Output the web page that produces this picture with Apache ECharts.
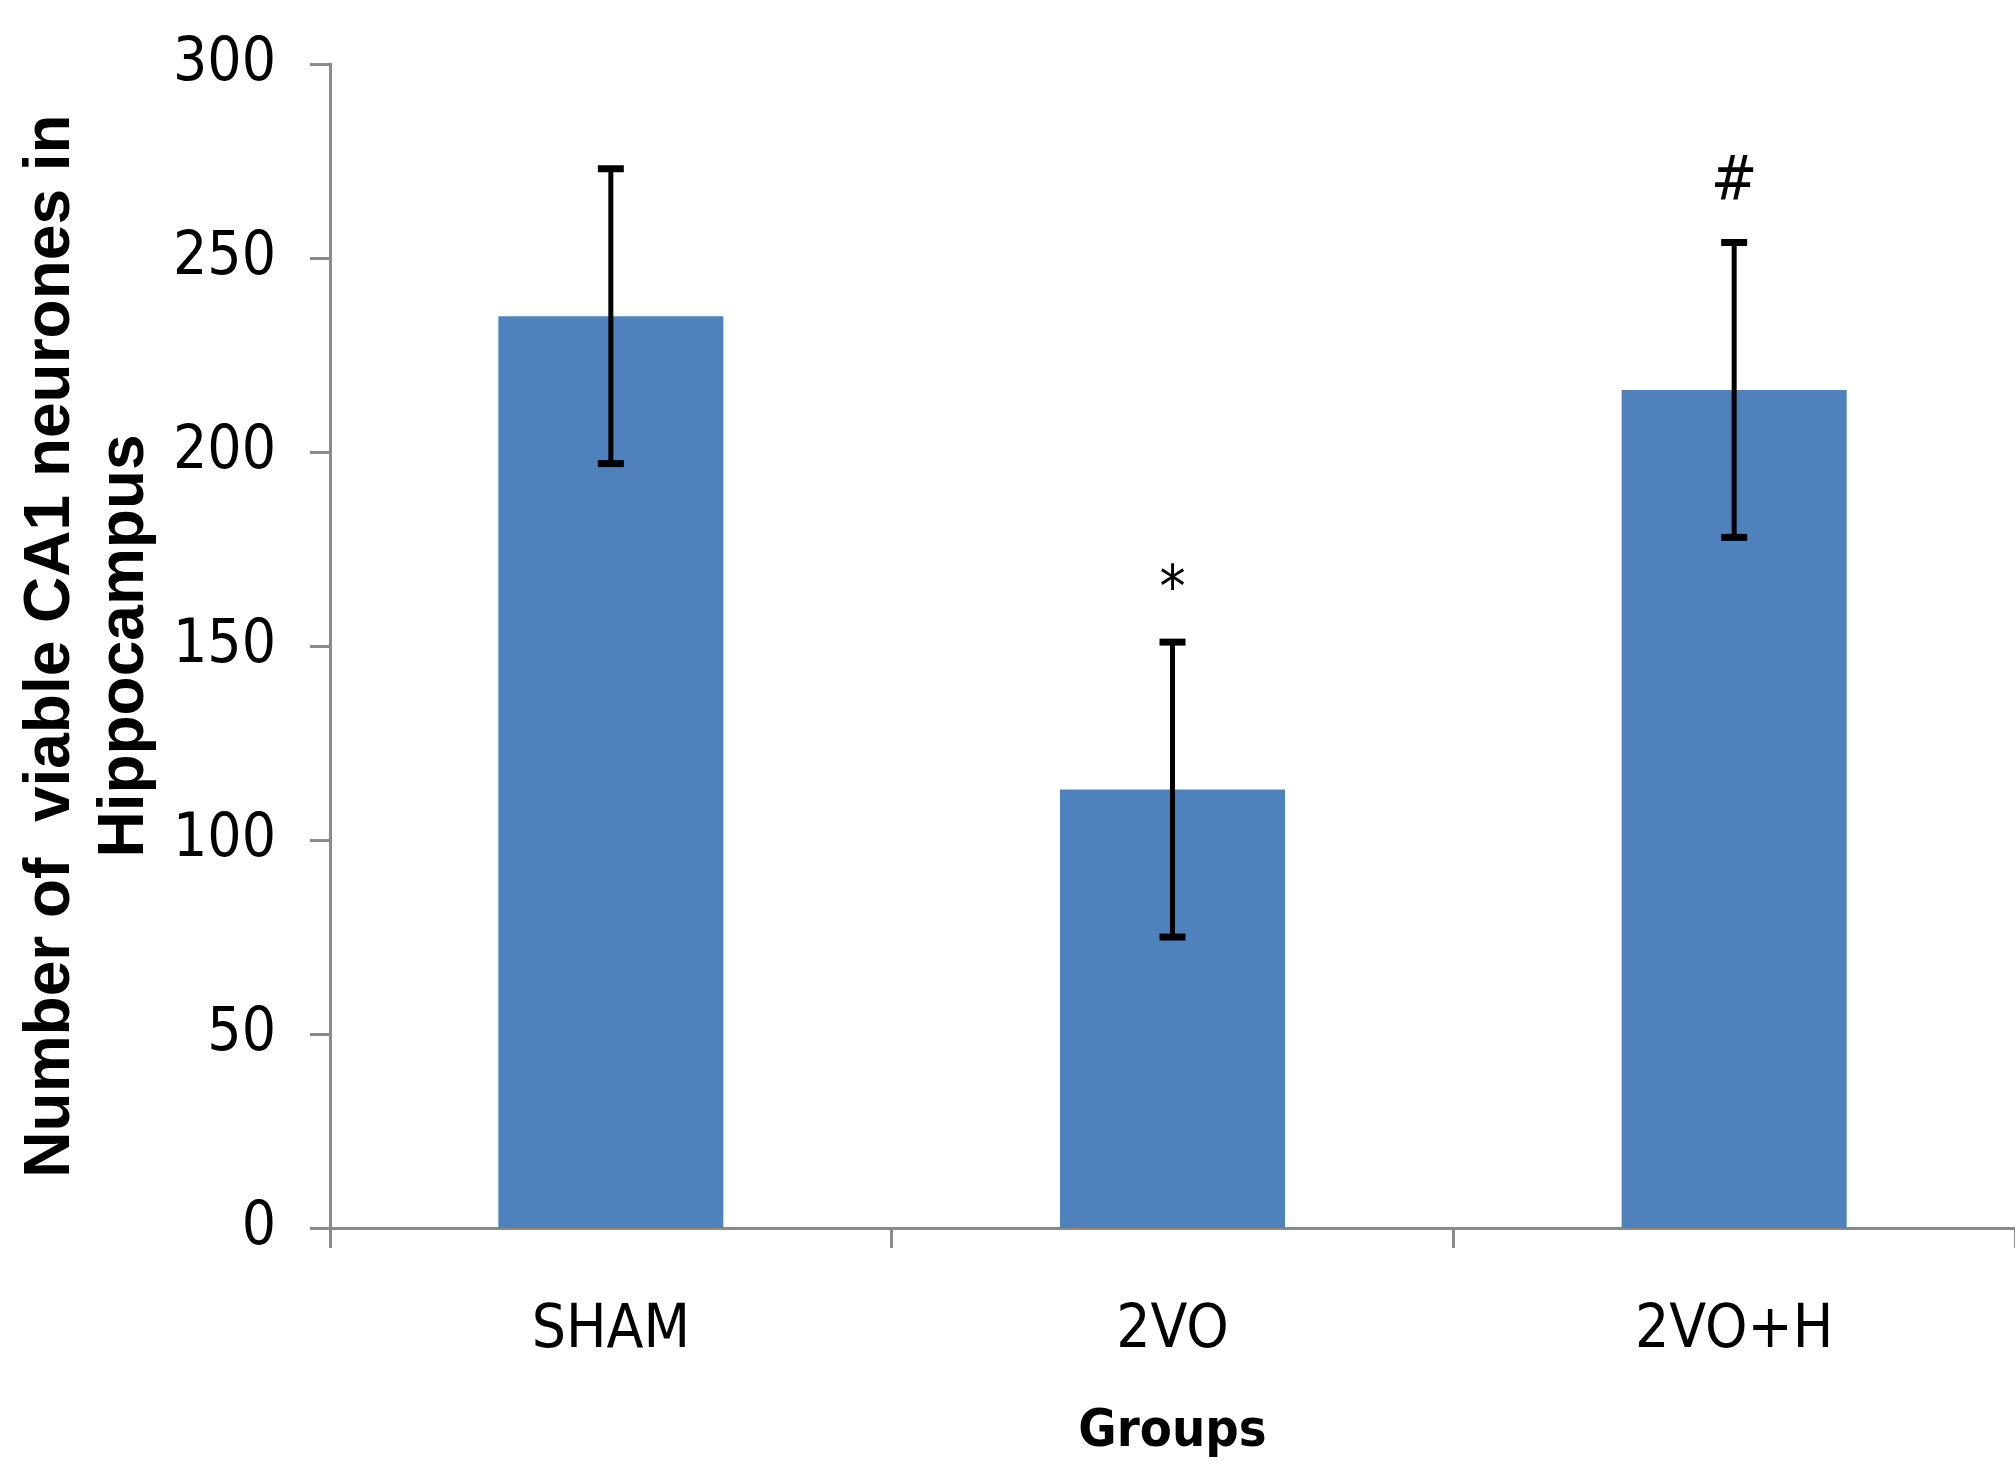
<!DOCTYPE html>
<html>
<head>
<meta charset="utf-8">
<script src="https://cdn.jsdelivr.net/npm/echarts@6/dist/echarts.min.js"></script>
<style>
  html, body { margin: 0; padding: 0; background: #fff; }
  #chart { width: 2015px; height: 1463px; }
</style>
</head>
<body>
<div id="chart"></div>
<script>
// data
const groups = ['SHAM', '2VO', '2VO+H'];
const means = [235, 113, 216];
const errors = [38, 38, 38];
const marks = ['', '*', '#'];
const yTicks = [0, 50, 100, 150, 200, 250, 300];

let chart = echarts.init(document.getElementById('chart'));

const axisColor = '#8a8a8a';
const tickFont = '"DejaVu Sans Condensed", "Liberation Sans", sans-serif';

chart.setOption({
  animation: false,
  backgroundColor: '#fff',
  grid: { left: 330, top: 64, bottom: 235, right: -4, containLabel: false },
  xAxis: {
    type: 'category',
    data: groups,
    name: 'Groups',
    nameLocation: 'middle',
    nameGap: 178,
    nameTextStyle: { fontFamily: tickFont, fontWeight: 'bold', fontSize: 52, color: '#000' },
    axisLine: { lineStyle: { color: axisColor, width: 3 } },
    axisTick: { show: true, length: 20, lineStyle: { color: axisColor, width: 3 } },
    axisLabel: { margin: 73, fontFamily: tickFont, fontSize: 60, color: '#000' }
  },
  yAxis: {
    type: 'value',
    min: yTicks[0],
    max: yTicks[yTicks.length - 1],
    interval: 50,
    name: 'Number of  viable CA1 neurones in\nHippocampus',
    nameLocation: 'middle',
    nameRotate: 90,
    nameGap: 156,
    nameTextStyle: { fontFamily: 'Liberation Sans', fontWeight: 'bold', fontSize: 64, lineHeight: 74, color: '#000', align: 'center' },
    splitLine: { show: false },
    axisLine: { show: true, lineStyle: { color: axisColor, width: 3 } },
    axisTick: { show: true, length: 20, lineStyle: { color: axisColor, width: 3 } },
    axisLabel: { margin: 54, fontFamily: tickFont, fontSize: 60, color: '#000' }
  },
  series: [
    {
      type: 'bar',
      data: means,
      barWidth: 225,
      itemStyle: { color: '#4F81BD' }
    },
    {
      type: 'custom',
      data: means.map((m, i) => [i, m - errors[i], m + errors[i], marks[i]]),
      renderItem: function (params, api) {
        const x = api.value(0);
        const lo = api.coord([x, api.value(1)]);
        const hi = api.coord([x, api.value(2)]);
        const mark = api.value(3);
        const above = api.coord([x, api.value(2) + (mark === '*' ? 13 : 15)]);
        const half = 13;
        const style = { stroke: '#000', lineWidth: 5 };
        const capStyle = { stroke: '#000', lineWidth: 7 };
        const children = [
          { type: 'line', shape: { x1: hi[0], y1: hi[1], x2: lo[0], y2: lo[1] }, style: style },
          { type: 'line', shape: { x1: hi[0] - half, y1: hi[1], x2: hi[0] + half, y2: hi[1] }, style: capStyle },
          { type: 'line', shape: { x1: lo[0] - half, y1: lo[1], x2: lo[0] + half, y2: lo[1] }, style: capStyle }
        ];
        if (mark) {
          children.push({
            type: 'text',
            x: above[0],
            y: above[1],
            style: {
              text: mark,
              fontFamily: tickFont,
              fontSize: mark === '*' ? 58 : 62,
              fill: '#000',
              align: 'center',
              verticalAlign: 'middle'
            }
          });
        }
        return { type: 'group', children: children };
      },
      z: 10
    }
  ]
});
</script>
</body>
</html>
